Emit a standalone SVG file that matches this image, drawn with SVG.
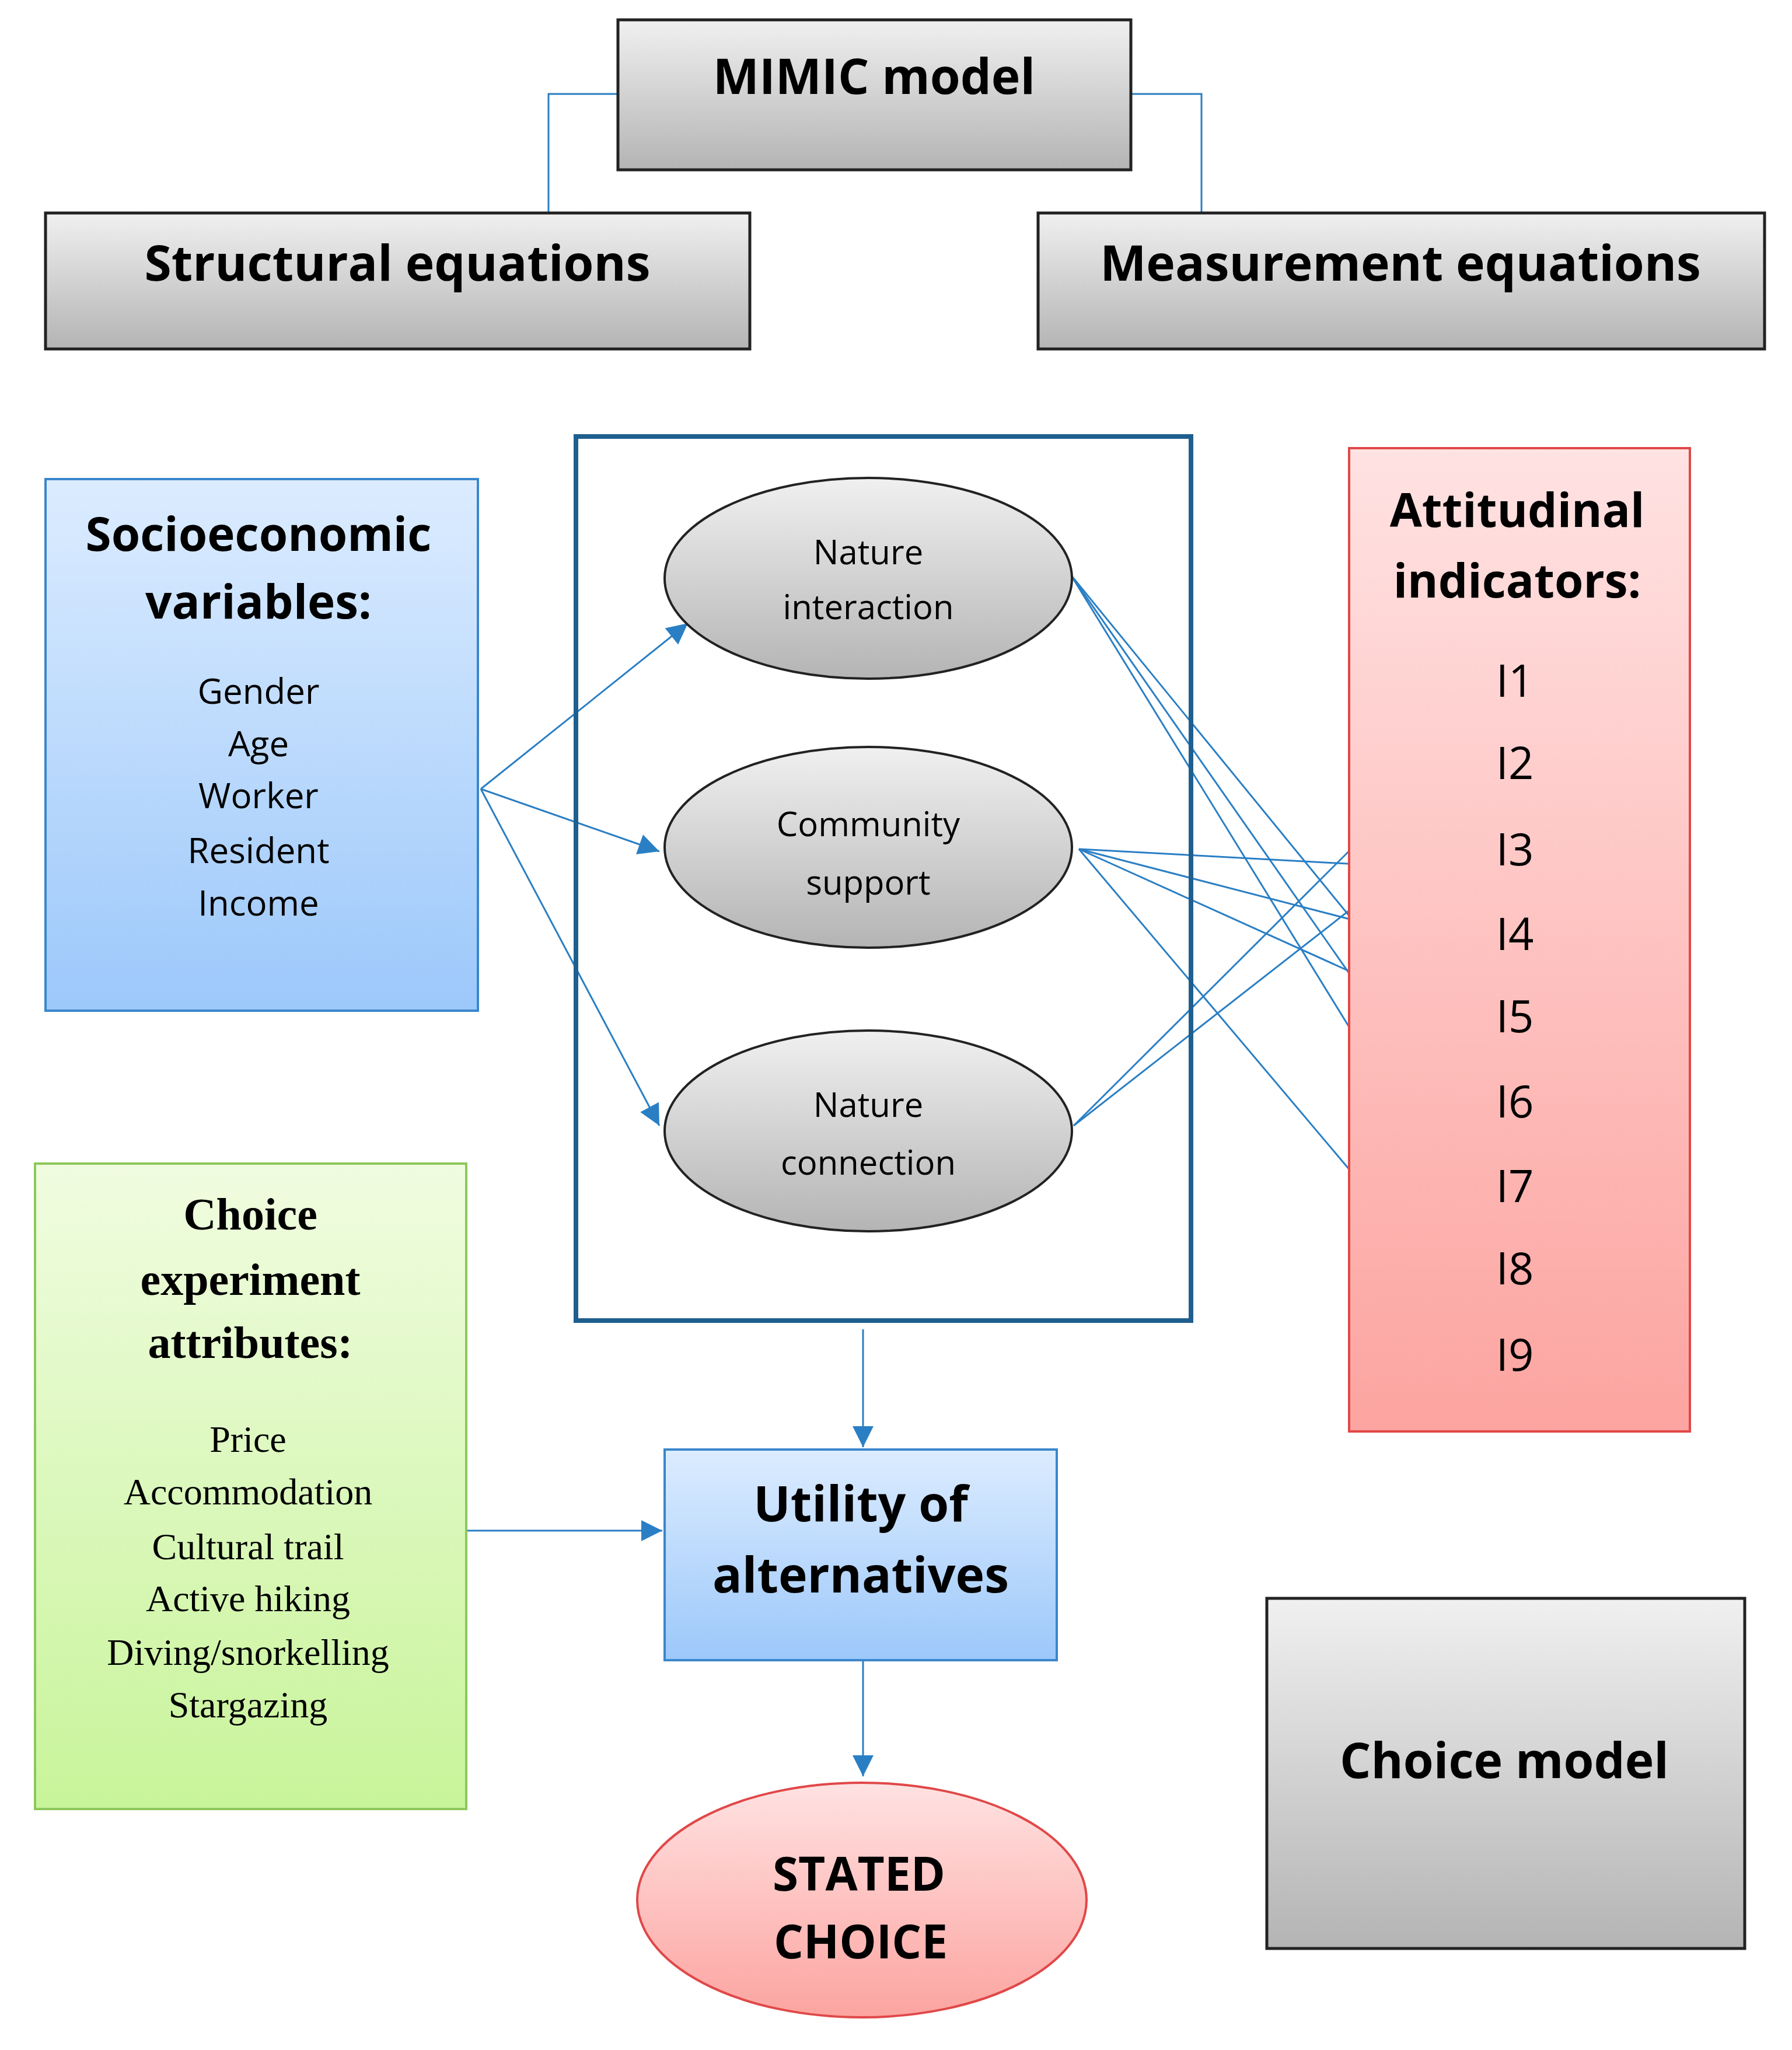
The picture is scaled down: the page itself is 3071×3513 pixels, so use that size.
<svg xmlns="http://www.w3.org/2000/svg" width="3071" height="3513" viewBox="0 0 3071 3513">
<defs>
<linearGradient id="gray" x1="0" y1="0" x2="0" y2="1"><stop offset="0" stop-color="#f0f0f0"/><stop offset="1" stop-color="#b4b4b4"/></linearGradient>
<linearGradient id="blue" x1="0" y1="0" x2="0" y2="1"><stop offset="0" stop-color="#dcecff"/><stop offset="1" stop-color="#9cc8fa"/></linearGradient>
<linearGradient id="green" x1="0" y1="0" x2="0" y2="1"><stop offset="0" stop-color="#f0fce0"/><stop offset="1" stop-color="#c8f49a"/></linearGradient>
<linearGradient id="red" x1="0" y1="0" x2="0" y2="1"><stop offset="0" stop-color="#ffe2e2"/><stop offset="1" stop-color="#fca4a0"/></linearGradient>
<marker id="ah" viewBox="0 0 10 10" refX="10" refY="5" markerWidth="12" markerHeight="12" markerUnits="userSpaceOnUse" orient="auto"><path d="M0,0 L10,5 L0,10 z" fill="#2a7fc4"/></marker>
<marker id="ahb" viewBox="0 0 10 10" refX="10" refY="5" markerWidth="40" markerHeight="36" markerUnits="userSpaceOnUse" orient="auto"><path d="M0,0 L10,5 L0,10 z" fill="#2a7fc4"/></marker>
</defs>
<style>
.g{fill:url(#gray);stroke:#222;stroke-width:5}
.s{font-family:"Open Sans","Liberation Sans",sans-serif;text-anchor:middle;fill:#000}
.r{font-family:"Liberation Serif",serif;text-anchor:middle;fill:#000}
.b{font-weight:bold}
.c{stroke:#2a7fc4;stroke-width:3;fill:none;marker-end:url(#ahb)}
.l{stroke:#2a7fc4;stroke-width:3;fill:none}
</style>
<rect width="3071" height="3513" fill="#fff"/>
<g id="connectors">
<polyline class="l" points="1059,161 940,161 940,365"/>
<polyline class="l" points="1938,161 2059,161 2059,365"/>
<line class="c" x1="824" y1="1352" x2="1179" y2="1068"/>
<line class="c" x1="824" y1="1352" x2="1130" y2="1459"/>
<line class="c" x1="824" y1="1352" x2="1130" y2="1929"/>
<line class="c" x1="1835" y1="985" x2="2551" y2="1862"/>
<line class="c" x1="1835" y1="985" x2="2551" y2="2010"/>
<line class="c" x1="1835" y1="985" x2="2551" y2="2148"/>
<line class="c" x1="1849" y1="1455" x2="2547" y2="1493"/>
<line class="c" x1="1849" y1="1455" x2="2556" y2="1638"/>
<line class="c" x1="1849" y1="1455" x2="2551" y2="1772"/>
<line class="c" x1="1849" y1="1455" x2="2551" y2="2287"/>
<line class="c" x1="1840" y1="1929" x2="2556" y2="1215"/>
<line class="c" x1="1840" y1="1929" x2="2562" y2="1365"/>
<line class="c" x1="1479" y1="2278" x2="1479" y2="2480"/>
<line class="c" x1="799" y1="2623" x2="1135" y2="2623"/>
<line class="c" x1="1479" y1="2845" x2="1479" y2="3044"/>
</g>
<g id="mimic"><rect class="g" x="1059" y="34" width="879" height="257"/><text class="s b" x="1498" y="161" font-size="84">MIMIC model</text></g>
<g id="structural"><rect class="g" x="78" y="365" width="1207" height="233"/><text class="s b" x="681" y="481" font-size="84">Structural equations</text></g>
<g id="measurement"><rect class="g" x="1779" y="365" width="1245" height="233"/><text class="s b" x="2400" y="481" font-size="84">Measurement equations</text></g>
<g id="frame"><rect x="987" y="748" width="1054" height="1515" fill="none" stroke="#1f5f8f" stroke-width="8"/></g>
<g id="socio"><rect x="78" y="821" width="741" height="911" fill="url(#blue)" stroke="#3a86cc" stroke-width="4"/>
<text class="s b" x="443" y="944" font-size="80">Socioeconomic</text><text class="s b" x="443" y="1060" font-size="80">variables:</text>
<text class="s" font-size="60"><tspan x="443" y="1206">Gender</tspan><tspan x="443" y="1296">Age</tspan><tspan x="443" y="1385">Worker</tspan><tspan x="443" y="1479">Resident</tspan><tspan x="443" y="1569">Income</tspan></text></g>
<g id="nature-interaction"><ellipse cx="1488" cy="991" rx="349" ry="172" fill="url(#gray)" stroke="#222" stroke-width="4"/><text class="s" font-size="58"><tspan x="1488" y="967">Nature</tspan><tspan x="1488" y="1061">interaction</tspan></text></g>
<g id="community-support"><ellipse cx="1488" cy="1452" rx="349" ry="172" fill="url(#gray)" stroke="#222" stroke-width="4"/><text class="s" font-size="58"><tspan x="1488" y="1433">Community</tspan><tspan x="1488" y="1533">support</tspan></text></g>
<g id="nature-connection"><ellipse cx="1488" cy="1938" rx="349" ry="172" fill="url(#gray)" stroke="#222" stroke-width="4"/><text class="s" font-size="58"><tspan x="1488" y="1914">Nature</tspan><tspan x="1488" y="2013">connection</tspan></text></g>
<g id="attitudinal"><rect x="2312" y="768" width="584" height="1685" fill="url(#red)" stroke="#e04848" stroke-width="4"/>
<text class="s b" x="2600" y="903" font-size="80">Attitudinal</text><text class="s b" x="2600" y="1024" font-size="80">indicators:</text>
<text class="s" font-size="76"><tspan x="2596" y="1194">I1</tspan><tspan x="2596" y="1335">I2</tspan><tspan x="2596" y="1483">I3</tspan><tspan x="2596" y="1628">I4</tspan><tspan x="2596" y="1769">I5</tspan><tspan x="2596" y="1915">I6</tspan><tspan x="2596" y="2060">I7</tspan><tspan x="2596" y="2201">I8</tspan><tspan x="2596" y="2349">I9</tspan></text></g>
<g id="choice-attributes"><rect x="60" y="1994" width="739" height="1106" fill="url(#green)" stroke="#8cc85a" stroke-width="4"/>
<text class="r b" font-size="78"><tspan x="429" y="2107">Choice</tspan><tspan x="429" y="2219">experiment</tspan><tspan x="429" y="2327">attributes:</tspan></text>
<text class="r" font-size="64"><tspan x="425" y="2488">Price</tspan><tspan x="425" y="2578">Accommodation</tspan><tspan x="425" y="2672">Cultural trail</tspan><tspan x="425" y="2761">Active hiking</tspan><tspan x="425" y="2853">Diving/snorkelling</tspan><tspan x="425" y="2943">Stargazing</tspan></text></g>
<g id="utility"><rect x="1139" y="2484" width="672" height="361" fill="url(#blue)" stroke="#3a86cc" stroke-width="4"/><text class="s b" font-size="84"><tspan x="1475" y="2607">Utility of</tspan><tspan x="1475" y="2729">alternatives</tspan></text></g>
<g id="stated-choice"><ellipse cx="1477" cy="3256" rx="385" ry="201" fill="url(#red)" stroke="#e04848" stroke-width="4"/><text class="s b" font-size="80"><tspan x="1472" y="3240">STATED</tspan><tspan x="1475" y="3356">CHOICE</tspan></text></g>
<g id="choice-model"><rect class="g" x="2171" y="2739" width="819" height="600"/><text class="s b" x="2578" y="3047" font-size="84">Choice model</text></g>
</svg>
